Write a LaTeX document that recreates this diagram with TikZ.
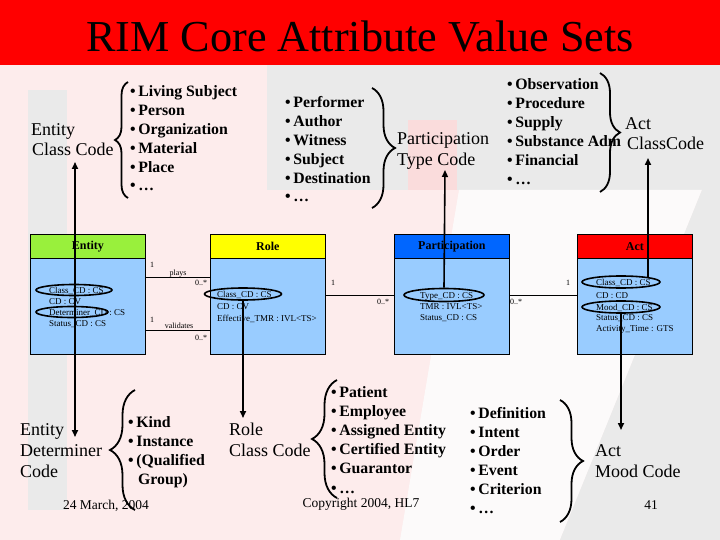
\documentclass[tikz,border=0pt]{standalone}
\usepackage{fontspec}
\setmainfont{Liberation Serif}
\usetikzlibrary{decorations.pathreplacing,shapes.geometric,arrows.meta}
\definecolor{bgpink}{RGB}{253,236,236}
\definecolor{wmgrey}{RGB}{234,234,234}
\definecolor{wmwhite}{RGB}{252,250,250}
\definecolor{wmred}{RGB}{250,220,220}
\definecolor{titlered}{RGB}{255,0,0}
\definecolor{entgreen}{RGB}{153,240,60}
\definecolor{roleyellow}{RGB}{255,255,0}
\definecolor{partblue}{RGB}{0,102,255}
\definecolor{actred}{RGB}{255,0,0}
\definecolor{bodyblue}{RGB}{153,204,255}
\begin{document}
\begin{tikzpicture}[x=1pt,y=-1pt,
  lbl/.style={anchor=base west,inner sep=0pt,font=\fontsize{18}{20}\selectfont},
  itm/.style={anchor=base west,inner sep=0pt,font=\bfseries\fontsize{15.8}{18}\selectfont},
  hdr/.style={draw,line width=0.8pt,anchor=north west,minimum width=115pt,minimum height=24pt,inner sep=0pt,font=\bfseries\fontsize{12}{13}\selectfont},
  bodybox/.style={draw,line width=0.8pt,fill=bodyblue,anchor=north west,minimum width=115pt,minimum height=96pt,inner sep=0pt},
  attr/.style={anchor=base west,inner sep=0pt,font=\fontsize{9}{10}\selectfont},
  mult/.style={anchor=center,inner sep=0pt,font=\fontsize{8}{9}\selectfont},
  assoc/.style={anchor=base,inner sep=0pt,text depth=2pt,font=\fontsize{8}{9}\selectfont},
  oval/.style={ellipse,draw,line width=1.6pt,inner sep=0pt},
  bracedec/.style={decorate,decoration={brace,amplitude=#1},line width=1.8pt},
  vline/.style={line width=1.6pt},
  tipend/.style={-{Triangle[length=7pt,width=6pt]}},
  tipboth/.style={{Triangle[length=7pt,width=6pt]}-{Triangle[length=7pt,width=6pt]}},
  conn/.style={line width=0.7pt},
  footer/.style={anchor=base,inner sep=0pt,font=\fontsize{13.5}{15}\selectfont}
]
\useasboundingbox (0,0) rectangle (720,540);
% background and faint HL7 watermark
\fill[bgpink] (0,0) rectangle (720,540);
\fill[wmgrey] (28,90) rectangle (67,510);
\fill[wmgrey] (267,65) rectangle (720,190);
\fill[wmred] (408,120) rectangle (457,190);
\fill[wmwhite] (459,190) -- (702,190) -- (560,540) -- (400,540) -- cycle;
\fill[wmgrey] (702,190) -- (720,190) -- (720,540) -- (560,540) -- cycle;
% title bar
\fill[titlered] (0,0) rectangle (720,65);
\node[anchor=base,inner sep=0pt,font=\fontsize{44.2}{46}\selectfont] (title) at (360,52) {RIM Core Attribute Value Sets};

% ---------- boxes ----------
\node[hdr,fill=entgreen] (enth) at (30,234) {Entity};
\node[bodybox] (entb) at (30,258) {};
\node[hdr,fill=roleyellow] (roleh) at (210,234) {Role};
\node[bodybox] (roleb) at (210,258) {};
\node[hdr,fill=partblue] (parth) at (394,234) {Participation};
\node[bodybox] (partb) at (394,258) {};
\node[hdr,fill=actred] (acth) at (577,234) {Act};
\node[bodybox] (actb) at (577,258) {};

% attributes
\node[attr] (ea1) at (49,293) {Class\_CD : CS};
\node[attr] (ea2) at (49,304) {CD : CV};
\node[attr] (ea3) at (49,315) {Determiner\_CD : CS};
\node[attr] (ea4) at (49,326) {Status\_CD : CS};
\node[attr] (ra1) at (217,297) {Class\_CD : CS};
\node[attr] (ra2) at (217,309) {CD : CV};
\node[attr] (ra3) at (217,321) {Effective\_TMR : IVL<TS>};
\node[attr] (pa1) at (420,298) {Type\_CD : CS};
\node[attr] (pa2) at (420,309) {TMR : IVL<TS>};
\node[attr] (pa3) at (420,320) {Status\_CD : CS};
\node[attr] (aa1) at (596,285) {Class\_CD : CS};
\node[attr] (aa2) at (596,298) {CD : CD};
\node[attr] (aa3) at (596,310) {Mood\_CD : CS};
\node[attr] (aa4) at (596,320) {Status\_CD : CS};
\node[attr] (aa5) at (596,331) {Activity\_Time : GTS};

% ovals
\node[oval,minimum width=76pt,minimum height=11pt] (ecls) at (74,290) {};
\node[oval,minimum width=72pt,minimum height=11pt] (edet) at (72,312) {};
\node[oval,minimum width=77pt,minimum height=12pt] (rcls) at (243,294) {};
\node[oval,minimum width=80pt,minimum height=13pt] (pcls) at (444,295) {};
\node[oval,minimum width=78pt,minimum height=12pt] (acls) at (621,282) {};
\node[oval,minimum width=78pt,minimum height=12pt] (amood) at (621,307) {};

% associations
\node[assoc] (plays) at (178,275) {plays};
\node[assoc] (valid) at (179,328) {validates};
\draw[conn] (entb.east |- plays.south) -- (roleb.west |- plays.south);
\draw[conn] (entb.east |- valid.south) -- (roleb.west |- valid.south);
\draw[conn] (roleb.east |- pcls) -- (partb.west |- pcls);
\draw[conn] (partb.east |- pcls) -- (actb.west |- pcls);
\node[mult] (m1) at (152,265) {1};
\node[mult] (m2) at (201,283) {0..*};
\node[mult] (m3) at (152,320) {1};
\node[mult] (m4) at (201,338) {0..*};
\node[mult] (m5) at (333,283) {1};
\node[mult] (m6) at (383,302) {0..*};
\node[mult] (m7) at (516,302) {0..*};
\node[mult] (m8) at (568,283) {1};

% ---------- value-set labels ----------
\node[lbl] (ecc1) at (31,136) {Entity};
\node[lbl] (ecc2) at (32,156) {Class Code};
\node[lbl] (ptc1) at (397,145) {Participation};
\node[lbl] (ptc2) at (397,166) {Type Code};
\node[lbl] (acc1) at (625,130) {Act};
\node[lbl] (acc2) at (627,150) {ClassCode};
\node[lbl] (edc1) at (20,435) {Entity};
\node[lbl] (edc2) at (20,456) {Determiner};
\node[lbl] (edc3) at (20,477) {Code};
\node[lbl] (rcc1) at (229,435) {Role};
\node[lbl] (rcc2) at (229,456) {Class Code};
\node[lbl] (amc1) at (595,456) {Act};
\node[lbl] (amc2) at (595,477) {Mood Code};

% ---------- value lists ----------
\foreach \w [count=\i from 0] in {Living Subject,Person,Organization,Material,Place,\ldots}
  \node[itm] (la\i) at (130,97+18.8*\i) {\textbullet\,\w};
\foreach \w [count=\i from 0] in {Performer,Author,Witness,Subject,Destination,\ldots}
  \node[itm] (lb\i) at (285,108+18.8*\i) {\textbullet\,\w};
\foreach \w [count=\i from 0] in {Observation,Procedure,Supply,Substance Adm,Financial,\ldots}
  \node[itm] (lc\i) at (507,90+19*\i) {\textbullet\,\w};
\node[itm] (ld0) at (128,427) {\textbullet\,Kind};
\node[itm] (ld1) at (128,446) {\textbullet\,Instance};
\node[itm] (ld2) at (128,465) {\textbullet\,(Qualified};
\node[itm] (ld3) at (138,484) {Group)};
\foreach \w [count=\i from 0] in {Patient,Employee,Assigned Entity,Certified Entity,Guarantor,\ldots}
  \node[itm] (le\i) at (331,397+19.2*\i) {\textbullet\,\w};
\foreach \w [count=\i from 0] in {Definition,Intent,Order,Event,Criterion,\ldots}
  \node[itm] (lf\i) at (470,418+19*\i) {\textbullet\,\w};

% ---------- braces ----------
\draw[bracedec=13pt] (128,198) -- (128,82);
\draw[bracedec=23pt] (372,88) -- (372,208);
\draw[bracedec=20pt] (600,73) -- (600,192);
\draw[bracedec=25pt] (135,510) -- (135,390);
\draw[bracedec=25pt] (337,498) -- (337,380);
\draw[bracedec=23pt] (560,400) -- (560,522);

% ---------- value-set arrows ----------
\coordinate (eccTip) at (75,162);
\coordinate (edcTip) at (75,437);
\coordinate (rccTip) at (243,418);
\coordinate (ptcTip) at (445,170);
\coordinate (accTip) at (648,158);
\coordinate (accJoin) at (648,278);
\coordinate (amcTip) at (621,430);
\draw[vline,tipboth] (eccTip) -- (edcTip);
\draw[vline,tipend] (rcls.south) -- (rccTip);
\draw[vline,tipend] (pcls.north) -- (ptcTip);
\draw[vline,tipend] (accJoin) -- (accTip);
\draw[vline,tipend] (amood.south) -- (amcTip);

% ---------- footer ----------
\node[footer] (date) at (106,509) {24 March, 2004};
\node[footer] (copy) at (361,507) {Copyright 2004, HL7};
\node[footer] (page) at (651,509) {41};
\end{tikzpicture}
\end{document}
